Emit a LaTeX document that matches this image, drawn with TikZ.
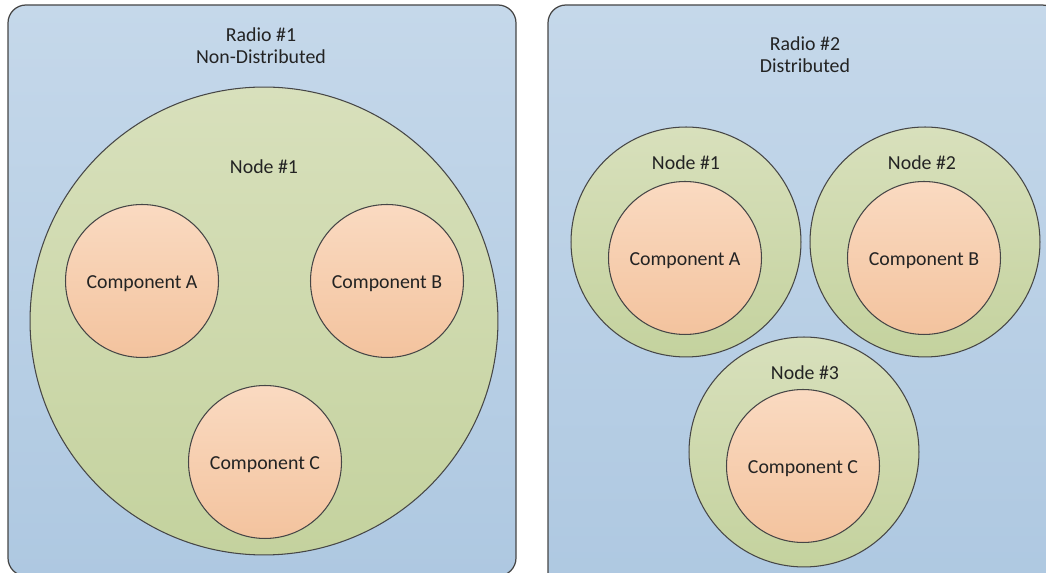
\documentclass[tikz,border=0pt]{standalone}
\usepackage{fontspec}
\setmainfont{Carlito}
\usepackage{tikz}
\definecolor{azulA}{RGB}{197,216,234}
\definecolor{azulB}{RGB}{174,200,225}
\definecolor{verdeA}{RGB}{216,224,188}
\definecolor{verdeB}{RGB}{196,210,158}
\definecolor{naranjaA}{RGB}{250,218,193}
\definecolor{naranjaB}{RGB}{243,195,158}
\definecolor{borde}{RGB}{70,70,70}
\definecolor{texto}{RGB}{35,35,35}

\begin{document}
\begin{tikzpicture}[x=0.02cm,y=-0.02cm,
panel/.style={draw=borde,line width=0.7pt,rounded corners=0.36cm,top color=azulA,bottom color=azulB},
host/.style={circle,draw=borde,line width=0.6pt,inner sep=0pt,top color=verdeA,bottom color=verdeB},
comp/.style={circle,draw=borde,line width=0.6pt,inner sep=0pt,minimum size=3.06cm,top color=naranjaA,bottom color=naranjaB},
lbl/.style={text=texto,align=center,font=\fontsize{11.3}{12.6}\selectfont},
clbl/.style={lbl,yshift=-0.05cm}
]
\clip (0,0) rectangle (1046,573);

% Radio #1
\shade[panel] (8,5) rectangle (516,576);
\node[lbl] (r1) at (261,46) {Radio \#1\\Non-Distributed};
\node[host,minimum size=9.36cm] (n1) at (264,321) {};
\node[lbl] (n1t) at (264,167) {Node \#1};
\node[comp] (ca) at (142,281) {};
\node[comp] (cb) at (387,281) {};
\node[comp] (cc) at (265,462) {};
\node[clbl] at (ca) {Component A};
\node[clbl] at (cb) {Component B};
\node[clbl] at (cc) {Component C};

% Radio #2
\shade[panel] (548,5) rectangle (1060,590);
\node[lbl] (r2) at (805,55) {Radio \#2\\Distributed};
\node[host,minimum size=4.6cm] (m1) at (686,242) {};
\node[host,minimum size=4.6cm] (m2) at (925,242) {};
\node[host,minimum size=4.6cm] (m3) at (804,452) {};
\node[lbl] (m1t) at (686,163) {Node \#1};
\node[lbl] (m2t) at (922,163) {Node \#2};
\node[lbl] (m3t) at (805,373) {Node \#3};
\node[comp] (da) at (685,258) {};
\node[comp] (db) at (924,258) {};
\node[comp] (dc) at (803,466) {};
\node[clbl] at (da) {Component A};
\node[clbl] at (db) {Component B};
\node[clbl] at (dc) {Component C};
\end{tikzpicture}
\end{document}
